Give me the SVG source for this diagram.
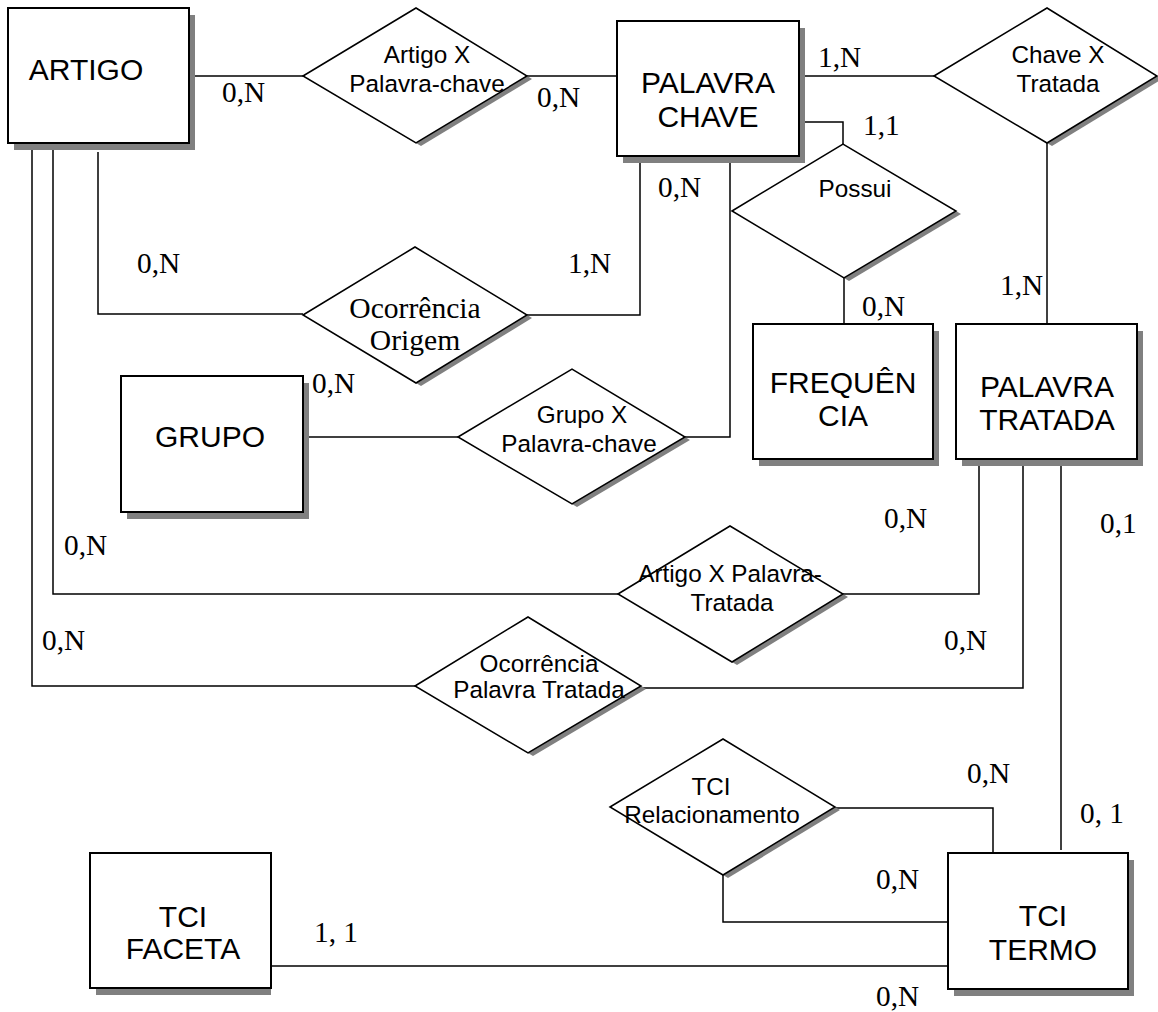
<svg xmlns="http://www.w3.org/2000/svg" width="1158" height="1012" viewBox="0 0 1158 1012">
  <style>
    .bg { fill: #ffffff; }
    .ent { fill: #ffffff; stroke: #000000; stroke-width: 2; }
    .rel { fill: #ffffff; stroke: #000000; stroke-width: 1.5; }
    .shadow { fill: #808080; stroke: none; }
    .conn { fill: none; stroke: #000000; stroke-width: 1.5; }
    .etxt { font-family: "Liberation Sans", Arial, sans-serif; font-size: 30px; fill: #000; text-anchor: middle; }
    .rtxt { font-family: "Liberation Sans", Arial, sans-serif; font-size: 24.3px; fill: #000; text-anchor: middle; }
    .rtxt-serif { font-family: "Liberation Serif", "Times New Roman", serif; font-size: 29.6px; fill: #000; text-anchor: middle; }
    .card { font-family: "Liberation Serif", "Times New Roman", serif; font-size: 29.3px; fill: #000; }
  </style>
  <rect class="bg" x="0" y="0" width="1158" height="1012"/>

  <!-- connectors -->
  <g id="connectors">
    <polyline class="conn" points="189,76 303,76"/>
    <polyline class="conn" points="527,76 617,76"/>
    <polyline class="conn" points="799,76 934,76"/>
    <polyline class="conn" points="1047,143 1047,324"/>
    <polyline class="conn" points="799,122 843,122 843,144"/>
    <polyline class="conn" points="844,278 844,324"/>
    <polyline class="conn" points="98,152 98,314 303,314"/>
    <polyline class="conn" points="527,315 640,315 640,154"/>
    <polyline class="conn" points="303,437 458,437"/>
    <polyline class="conn" points="685,437 730,437 730,162"/>
    <polyline class="conn" points="53,143 53,594 618,594"/>
    <polyline class="conn" points="843,594 979,594 979,459"/>
    <polyline class="conn" points="32,143 32,686 415,686"/>
    <polyline class="conn" points="641,688 1023,688 1023,465"/>
    <polyline class="conn" points="1061,465 1061,850"/>
    <polyline class="conn" points="835,808 993,808 993,853"/>
    <polyline class="conn" points="723,875 723,922 948,922"/>
    <polyline class="conn" points="271,966 948,966"/>
  </g>

  <!-- entities -->
  <g id="artigo">
    <rect class="shadow" x="14" y="15" width="181" height="135"/>
    <rect class="ent" x="8" y="8" width="181" height="135"/>
    <text class="etxt" x="86" y="80">ARTIGO</text>
  </g>
  <g id="palavra-chave">
    <rect class="shadow" x="623" y="28" width="182" height="135"/>
    <rect class="ent" x="617" y="21" width="182" height="135"/>
    <text class="etxt" x="708" y="93">PALAVRA</text>
    <text class="etxt" x="708" y="127">CHAVE</text>
  </g>
  <g id="frequencia">
    <rect class="shadow" x="759" y="331" width="180" height="135"/>
    <rect class="ent" x="753" y="324" width="180" height="135"/>
    <text class="etxt" x="843" y="393">FREQUÊN</text>
    <text class="etxt" x="843" y="426">CIA</text>
  </g>
  <g id="palavra-tratada">
    <rect class="shadow" x="962" y="331" width="181" height="135"/>
    <rect class="ent" x="956" y="324" width="181" height="135"/>
    <text class="etxt" x="1047" y="397">PALAVRA</text>
    <text class="etxt" x="1047" y="430">TRATADA</text>
  </g>
  <g id="grupo">
    <rect class="shadow" x="127" y="383" width="182" height="136"/>
    <rect class="ent" x="121" y="376" width="182" height="136"/>
    <text class="etxt" x="210" y="447">GRUPO</text>
  </g>
  <g id="tci-faceta">
    <rect class="shadow" x="96" y="860" width="175" height="135"/>
    <rect class="ent" x="90" y="853" width="181" height="135"/>
    <text class="etxt" x="183" y="927">TCI</text>
    <text class="etxt" x="183" y="959">FACETA</text>
  </g>
  <g id="tci-termo">
    <rect class="shadow" x="954" y="860" width="180" height="136"/>
    <rect class="ent" x="948" y="853" width="180" height="136"/>
    <text class="etxt" x="1043" y="926">TCI</text>
    <text class="etxt" x="1043" y="960">TERMO</text>
  </g>

  <!-- relationships -->
  <g id="artigo-x-palavra-chave">
    <polygon class="shadow" points="308,79 421,11 532,79 421,146"/>
    <polygon class="rel" points="303,76 416,8 527,76 416,143"/>
    <text class="rtxt" x="427" y="63">Artigo X</text>
    <text class="rtxt" x="427" y="92">Palavra-chave</text>
  </g>
  <g id="chave-x-tratada">
    <polygon class="shadow" points="939,79 1052,11 1162,79 1052,146"/>
    <polygon class="rel" points="934,76 1047,8 1157,76 1047,143"/>
    <text class="rtxt" x="1058" y="63">Chave X</text>
    <text class="rtxt" x="1058" y="92">Tratada</text>
  </g>
  <g id="possui">
    <polygon class="shadow" points="737,214 848,147 961,214 849,281"/>
    <polygon class="rel" points="732,211 843,144 956,211 844,278"/>
    <text class="rtxt" x="855" y="197">Possui</text>
  </g>
  <g id="ocorrencia-origem">
    <polygon class="shadow" points="308,318 420,250 532,318 421,386"/>
    <polygon class="rel" points="303,315 415,247 527,315 416,383"/>
    <text class="rtxt-serif" x="415" y="318">Ocorrência</text>
    <text class="rtxt-serif" x="415" y="350">Origem</text>
  </g>
  <g id="grupo-x-palavra-chave">
    <polygon class="shadow" points="463,440 577,372 690,440 577,507"/>
    <polygon class="rel" points="458,437 572,369 685,437 572,504"/>
    <text class="rtxt" x="582" y="423">Grupo X</text>
    <text class="rtxt" x="579" y="452">Palavra-chave</text>
  </g>
  <g id="artigo-x-palavra-tratada">
    <polygon class="shadow" points="623,597 735,529 848,597 737,665"/>
    <polygon class="rel" points="618,594 730,526 843,594 732,662"/>
    <text class="rtxt" x="730" y="582">Artigo X Palavra-</text>
    <text class="rtxt" x="732" y="611">Tratada</text>
  </g>
  <g id="ocorrencia-palavra-tratada">
    <polygon class="shadow" points="420,689 533,620 646,689 533,756"/>
    <polygon class="rel" points="415,686 528,617 641,686 528,753"/>
    <text class="rtxt" x="539" y="672">Ocorrência</text>
    <text class="rtxt" x="539" y="698">Palavra Tratada</text>
  </g>
  <g id="tci-relacionamento">
    <polygon class="shadow" points="615,810 728,742 840,810 728,878"/>
    <polygon class="rel" points="610,807 723,739 835,807 723,875"/>
    <text class="rtxt" x="711" y="795">TCI</text>
    <text class="rtxt" x="712" y="823">Relacionamento</text>
  </g>

  <!-- cardinalities -->
  <g id="cardinalities">
    <text class="card" x="222" y="102">0,N</text>
    <text class="card" x="537" y="107">0,N</text>
    <text class="card" x="818" y="67">1,N</text>
    <text class="card" x="863" y="135">1,1</text>
    <text class="card" x="658" y="197">0,N</text>
    <text class="card" x="137" y="273">0,N</text>
    <text class="card" x="568" y="273">1,N</text>
    <text class="card" x="862" y="316">0,N</text>
    <text class="card" x="1000" y="295">1,N</text>
    <text class="card" x="312" y="393">0,N</text>
    <text class="card" x="64" y="555">0,N</text>
    <text class="card" x="884" y="528">0,N</text>
    <text class="card" x="1100" y="533">0,1</text>
    <text class="card" x="42" y="650">0,N</text>
    <text class="card" x="944" y="650">0,N</text>
    <text class="card" x="967" y="783">0,N</text>
    <text class="card" x="1080" y="823">0, 1</text>
    <text class="card" x="876" y="889">0,N</text>
    <text class="card" x="314" y="942">1, 1</text>
    <text class="card" x="876" y="1006">0,N</text>
  </g>
</svg>
